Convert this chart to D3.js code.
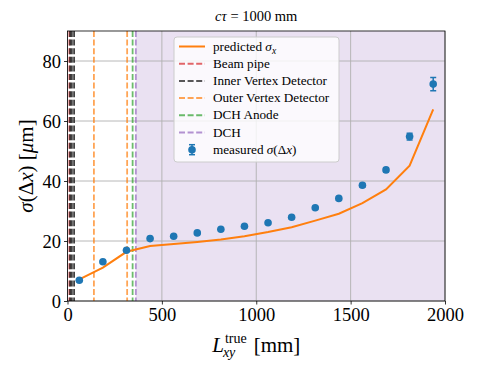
<!DOCTYPE html>
<html>
<head>
<meta charset="utf-8">
<script src="https://cdn.jsdelivr.net/npm/d3@7"></script>
<style>
  body { margin: 0; background: #fff; }
  text { font-family: "Liberation Serif", "DejaVu Serif", serif; fill: #000; }
</style>
</head>
<body>
<div id="chart"></div>
<script>
// bin centres [mm]
const lxy = [62.5, 187.5, 312.5, 437.5, 562.5, 687.5, 812.5, 937.5,
    1062.5, 1187.5, 1312.5, 1437.5, 1562.5, 1687.5, 1812.5, 1937.5];
// measured sigma(dx) [um] and its error
const measured = [6.9, 13.1, 16.9, 20.8, 21.6, 22.7, 23.9, 24.9,
    26.1, 27.9, 31.1, 34.2, 38.6, 43.7, 54.8, 72.3];
const measuredErr = [0.3, 0.3, 0.3, 0.3, 0.3, 0.3, 0.3, 0.3,
    0.3, 0.4, 0.4, 0.5, 0.6, 0.7, 1.1, 2.2];
// predicted sigma_x [um]
const predicted = [7.2, 11.1, 16.4, 18.3, 19.0, 19.7, 20.5, 21.6,
    23.0, 24.6, 26.8, 29.1, 32.6, 37.2, 45.1, 63.9];

// detector radii [mm]
const beamPipe = [10];
const innerVertex = [14, 23, 35];
const outerVertex = [140, 316];
const dchAnode = [345];
const dch = [362];
const dchSpan = [362, 2000];

const xTicks = [0, 500, 1000, 1500, 2000];
const yTicks = [0, 20, 40, 60, 80];

const W = 478, H = 372;
const margin = {top: 31, right: 33, bottom: 71, left: 67.5};
const width = W - margin.left - margin.right,
      height = H - margin.top - margin.bottom;

const svg = d3.select("#chart").append("svg")
    .attr("width", W).attr("height", H);

const g = svg.append("g")
    .attr("transform", "translate(" + margin.left + "," + margin.top + ")");

const x = d3.scaleLinear().domain([0, 2000]).range([0, width]);
const y = d3.scaleLinear().domain([0, 90]).range([height, 0]);

const defs = svg.append("defs");
defs.append("clipPath").attr("id", "clip")
  .append("rect").attr("width", width).attr("height", height);

// DCH shading
g.append("rect")
    .attr("x", x(dchSpan[0])).attr("y", 0)
    .attr("width", x(dchSpan[1]) - x(dchSpan[0]))
    .attr("height", height)
    .attr("fill", "#9467bd").attr("fill-opacity", 0.2);

// grid
g.append("g").selectAll("line").data(xTicks).enter().append("line")
    .attr("x1", d => x(d)).attr("x2", d => x(d))
    .attr("y1", 0).attr("y2", height)
    .attr("stroke", "#b0b0b0").attr("stroke-width", 0.9);
g.append("g").selectAll("line").data(yTicks).enter().append("line")
    .attr("y1", d => y(d)).attr("y2", d => y(d))
    .attr("x1", 0).attr("x2", width)
    .attr("stroke", "#b0b0b0").attr("stroke-width", 0.9);

// detector lines
const detectors = [
    {vals: beamPipe, color: "#d62728", op: 0.7},
    {vals: innerVertex, color: "#111111", op: 0.8},
    {vals: outerVertex, color: "#ff7f0e", op: 0.7},
    {vals: dchAnode, color: "#2ca02c", op: 0.7},
    {vals: dch, color: "#9467bd", op: 0.7}
];
const plotArea = g.append("g").attr("clip-path", "url(#clip)");
detectors.forEach(det => {
    plotArea.append("g").selectAll("line").data(det.vals).enter().append("line")
        .attr("x1", d => x(d)).attr("x2", d => x(d))
        .attr("y1", 0).attr("y2", height)
        .attr("stroke", det.color).attr("stroke-opacity", det.op)
        .attr("stroke-width", 1.8)
        .attr("stroke-dasharray", "6,2.6");
});

// predicted line
const line = d3.line().x((d, i) => x(lxy[i])).y(d => y(d));
plotArea.append("path").datum(predicted)
    .attr("d", line)
    .attr("fill", "none")
    .attr("stroke", "#ff7f0e")
    .attr("stroke-width", 2);

// measured points with error bars
const pts = plotArea.append("g").selectAll("g").data(measured).enter().append("g");
pts.append("line")
    .attr("x1", (d, i) => x(lxy[i])).attr("x2", (d, i) => x(lxy[i]))
    .attr("y1", (d, i) => y(d - measuredErr[i])).attr("y2", (d, i) => y(d + measuredErr[i]))
    .attr("stroke", "#1f77b4").attr("stroke-width", 1.5);
[-1, 1].forEach(s => {
    pts.append("line")
        .attr("x1", (d, i) => x(lxy[i]) - 3).attr("x2", (d, i) => x(lxy[i]) + 3)
        .attr("y1", (d, i) => y(d + s * measuredErr[i])).attr("y2", (d, i) => y(d + s * measuredErr[i]))
        .attr("stroke", "#1f77b4").attr("stroke-width", 1.5);
});
pts.append("circle")
    .attr("cx", (d, i) => x(lxy[i])).attr("cy", d => y(d))
    .attr("r", 3.8).attr("fill", "#1f77b4");

// axes
const xAxis = g.append("g").attr("transform", "translate(0," + height + ")")
    .call(d3.axisBottom(x).tickValues(xTicks).tickSize(3.5).tickPadding(3).tickFormat(d3.format("d")));
const yAxis = g.append("g")
    .call(d3.axisLeft(y).tickValues(yTicks).tickSize(3.5).tickPadding(3).tickFormat(d3.format("d")));
[xAxis, yAxis].forEach(a => {
    a.select(".domain").remove();
    a.selectAll("line").attr("stroke", "#000").attr("stroke-width", 0.8);
    a.selectAll("text").attr("font-size", 18.5)
        .attr("font-family", "Liberation Serif");
});
xAxis.selectAll("text").attr("dy", "0.75em");
yAxis.selectAll("text").attr("dy", "0.34em");

g.append("rect").attr("width", width).attr("height", height)
    .attr("fill", "none").attr("stroke", "#000").attr("stroke-width", 0.8);

// title
const title = svg.append("text")
    .attr("x", margin.left + width / 2).attr("y", 21)
    .attr("text-anchor", "middle").attr("font-size", 14.5);
title.append("tspan").attr("font-style", "italic").text("cτ");
title.append("tspan").text(" = 1000 mm");

// x label
const xl = svg.append("g");
const xlL = xl.append("text").attr("x", 0).attr("y", 0)
    .attr("font-size", 21).attr("font-style", "italic").text("L");
const lw = xlL.node().getComputedTextLength();
const sup = xl.append("text").attr("x", lw + 1).attr("y", -9)
    .attr("font-size", 14).text("true");
xl.append("text").attr("x", lw - 1).attr("y", 5)
    .attr("font-size", 14).attr("font-style", "italic").text("xy");
const supW = sup.node().getComputedTextLength();
const rest = xl.append("text").attr("x", lw + supW + 8).attr("y", 0)
    .attr("font-size", 21).text("[mm]");
const totalW = lw + supW + 8 + rest.node().getComputedTextLength();
xl.attr("transform", "translate(" + (margin.left + width / 2 - totalW / 2) + ",352)");

// y label
const yl = svg.append("text")
    .attr("transform", "translate(33," + (margin.top + height / 2) + ") rotate(-90)")
    .attr("text-anchor", "middle").attr("font-size", 21);
yl.append("tspan").attr("font-style", "italic").text("σ");
yl.append("tspan").text("(Δ");
yl.append("tspan").attr("font-style", "italic").text("x");
yl.append("tspan").text(") [");
yl.append("tspan").attr("font-style", "italic").text("μ");
yl.append("tspan").text("m]");

// legend
const lg = svg.append("g").attr("transform", "translate(174,37)");
lg.append("rect").attr("width", 165).attr("height", 125).attr("rx", 3)
    .attr("fill", "#fff").attr("fill-opacity", 0.8)
    .attr("stroke", "#cccccc").attr("stroke-width", 1);
const legendItems = [
    {label: "predicted", sub: "x", type: "solid", color: "#ff7f0e", op: 1},
    {label: "Beam pipe", type: "dash", color: "#d62728", op: 0.7},
    {label: "Inner Vertex Detector", type: "dash", color: "#111111", op: 0.7},
    {label: "Outer Vertex Detector", type: "dash", color: "#ff7f0e", op: 0.7},
    {label: "DCH Anode", type: "dash", color: "#2ca02c", op: 0.7},
    {label: "DCH", type: "dash", color: "#9467bd", op: 0.7},
    {label: "measured", type: "err", color: "#1f77b4", op: 1}
];
legendItems.forEach((it, i) => {
    const yy = 9.5 + i * 17.2;
    const row = lg.append("g").attr("transform", "translate(0," + yy + ")");
    if (it.type === "err") {
        row.append("line").attr("x1", 18).attr("x2", 18).attr("y1", -5).attr("y2", 5)
            .attr("stroke", it.color).attr("stroke-width", 1.5);
        [-5, 5].forEach(v => row.append("line").attr("x1", 15).attr("x2", 21)
            .attr("y1", v).attr("y2", v).attr("stroke", it.color).attr("stroke-width", 1.5));
        row.append("circle").attr("cx", 18).attr("cy", 0).attr("r", 3.8).attr("fill", it.color);
    } else {
        row.append("line").attr("x1", 5).attr("x2", 31).attr("y1", 0).attr("y2", 0)
            .attr("stroke", it.color)
            .attr("stroke-width", 2)
            .attr("stroke-opacity", it.op)
            .attr("stroke-dasharray", it.type === "solid" ? null : "6,2.6");
    }
    const t = row.append("text").attr("x", 39).attr("y", 4).attr("font-size", 13.2);
    t.append("tspan").text(it.label);
    if (it.type === "solid") {
        t.append("tspan").text(" ");
        t.append("tspan").attr("font-style", "italic").text("σ");
        t.append("tspan").attr("font-style", "italic").attr("font-size", 9.5)
            .attr("dy", 3).text("x");
    } else if (it.type === "err") {
        t.append("tspan").text(" ");
        t.append("tspan").attr("font-style", "italic").text("σ");
        t.append("tspan").text("(Δ");
        t.append("tspan").attr("font-style", "italic").text("x");
        t.append("tspan").text(")");
    }
});
</script>
</body>
</html>
